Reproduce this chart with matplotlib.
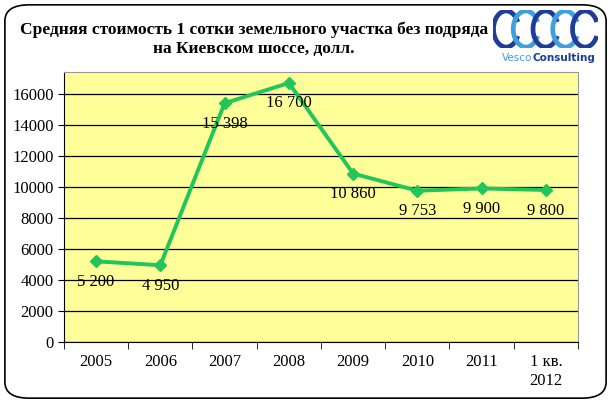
import numpy as np
import matplotlib.pyplot as plt
from matplotlib.patches import FancyBboxPatch, Arc

# Средняя стоимость 1 сотки, Киевское шоссе
years = ["2005", "2006", "2007", "2008", "2009", "2010", "2011", "1 кв.\n2012"]
prices = [5200, 4950, 15398, 16700, 10860, 9753, 9900, 9800]
labels = ["5 200", "4 950", "15 398", "16 700", "10 860", "9 753", "9 900", "9 800"]

plt.rcParams['font.family'] = ['Liberation Serif', 'DejaVu Serif']

fig = plt.figure(figsize=(6.11, 4.03), dpi=100)
fig.patch.set_facecolor('white')

# рамка вокруг всей картинки
border = FancyBboxPatch((0.008, 0.012), 0.984, 0.976,
                        boxstyle="round,pad=0,rounding_size=0.04",
                        transform=fig.transFigure, fill=False,
                        edgecolor='black', linewidth=1.2)
fig.patches.append(border)

ax = fig.add_axes([0.1047, 0.1514, 0.8413, 0.6696])
ax.set_facecolor('#FFFF99')

x = np.arange(len(years))
ax.plot(x, prices, color='#22C55A', linewidth=2.8, marker='D',
        markersize=6, zorder=3)

for xi, yi, t in zip(x, prices, labels):
    ax.annotate(t, (xi, yi), xytext=(0, -9), textcoords='offset points',
                ha='center', va='top', fontsize=12, zorder=4)

ax.set_xlim(-0.5, len(years) - 0.5)
ax.set_ylim(0, 17400)
ax.set_yticks(np.arange(0, 16001, 2000))
ax.tick_params(axis='y', labelsize=12, length=4, direction='out')
ax.yaxis.grid(True, color='black', linewidth=0.9)
ax.set_axisbelow(True)

ax.set_xticks(x)
ax.set_xticklabels(years, fontsize=12)
ax.set_xticks(np.arange(-0.5, len(years)), minor=True)
ax.tick_params(axis='x', which='major', length=0, pad=9)
ax.tick_params(axis='x', which='minor', length=5, direction='out')

for s in ['top', 'right']:
    ax.spines[s].set_color('#999999')
ax.spines['left'].set_color('black')
ax.spines['bottom'].set_color('black')

fig.text(0.415, 0.925, "Средняя стоимость 1 сотки земельного участка без подряда",
         ha='center', va='center', fontsize=12.5, fontweight='bold')
fig.text(0.415, 0.878, "на Киевском шоссе, долл.",
         ha='center', va='center', fontsize=12.5, fontweight='bold')

# логотип
lax = fig.add_axes([0.807, 0.881, 0.172, 0.094])
lax.set_xlim(0, 5.0)
lax.set_ylim(-1.05, 1.05)
lax.axis('off')
ring_colors = ['#1F3C99', '#3FA0DD', '#1F3C99', '#3FA0DD', '#1F3C99']
for i, c in enumerate(ring_colors):
    lax.add_patch(Arc((0.62 + i * 0.94, 0), 1.2, 2.0, theta1=35, theta2=325,
                      color=c, linewidth=3.4))
fig.text(0.872, 0.857, "Vesco", color='#3FA0DD', fontsize=7.5,
         family='DejaVu Sans', ha='right', va='center')
fig.text(0.872, 0.857, "Consulting", color='#1F3C99', fontsize=7.5,
         family='DejaVu Sans', fontweight='bold', ha='left', va='center')

fig.savefig('out.png', dpi=100)
